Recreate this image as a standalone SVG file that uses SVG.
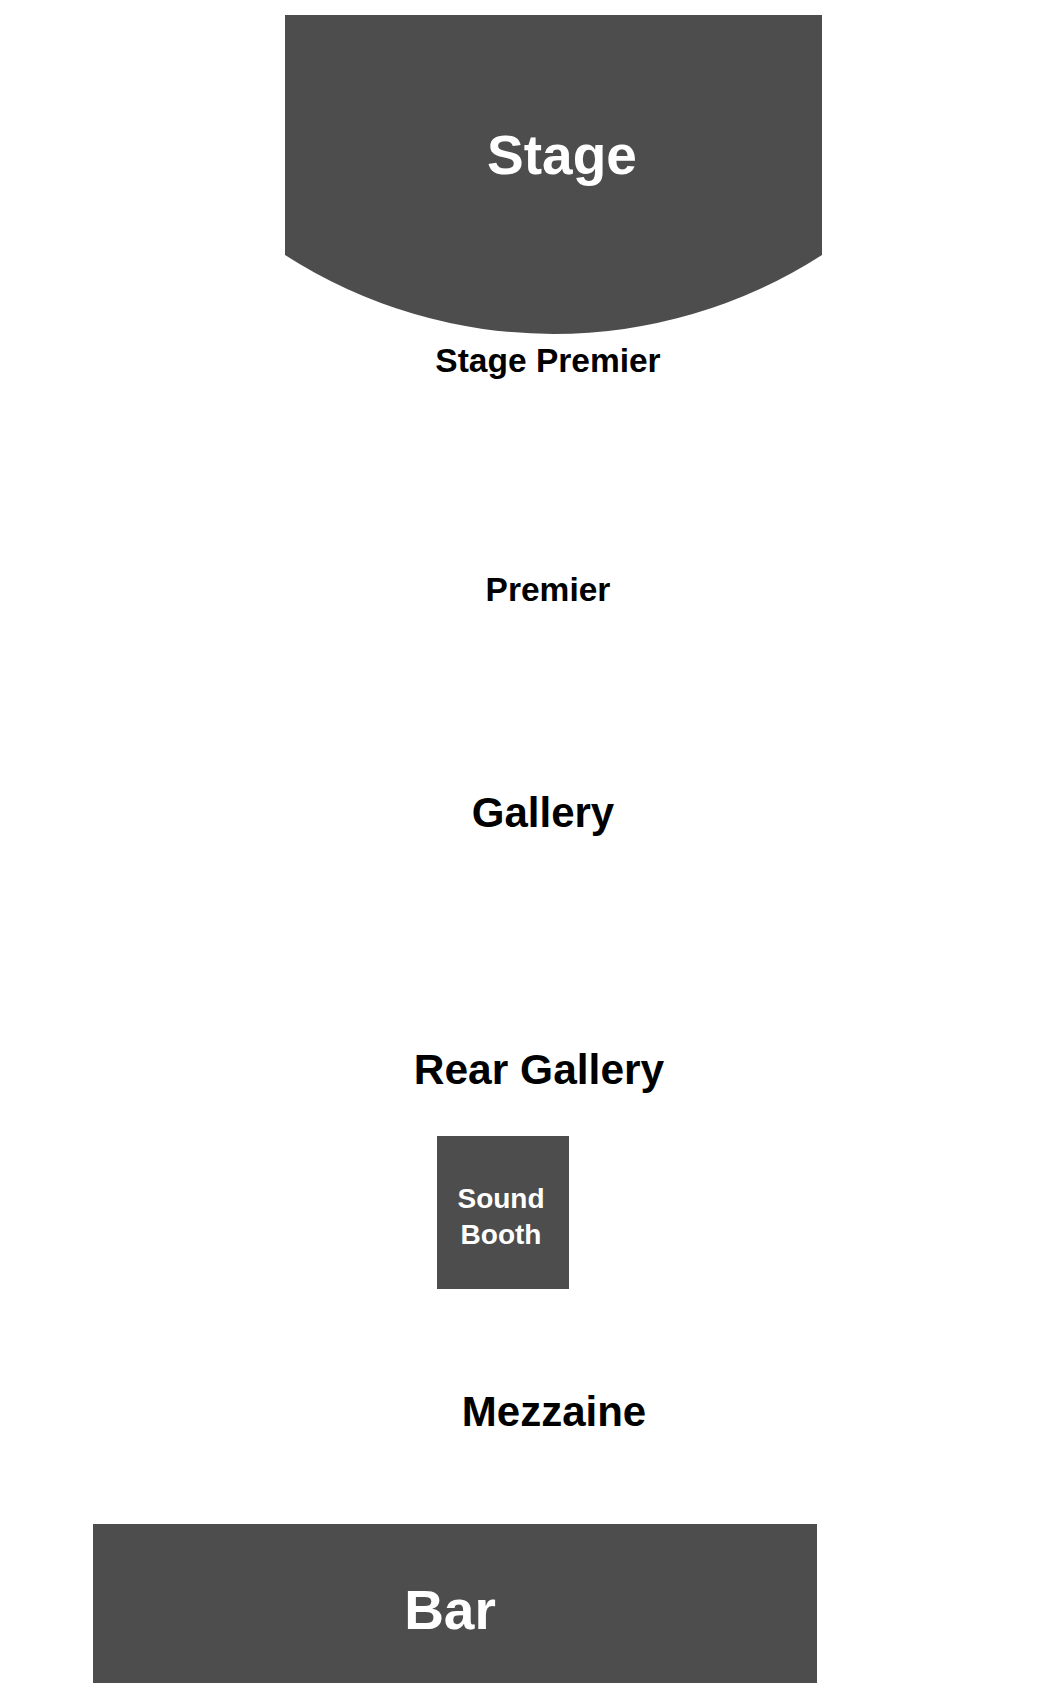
<svg xmlns="http://www.w3.org/2000/svg" width="1050" height="1700" viewBox="0 0 1050 1700">
<style>
.blk{fill:#4d4d4d}
.w{fill:#ffffff;font-family:"Liberation Sans",Arial,sans-serif;font-weight:bold;text-anchor:middle}
.k{fill:#000000;font-family:"Liberation Sans",Arial,sans-serif;font-weight:bold;text-anchor:middle}
</style>
<rect width="1050" height="1700" fill="#ffffff"/>
<g id="stage">
<path class="blk" d="M285,15 H822 V255 A496,496 0 0 1 285,255 Z"/>
<text class="w" x="562" y="174" font-size="55">Stage</text>
</g>
<g id="stage-premier"><text class="k" x="548" y="372" font-size="33.5">Stage Premier</text></g>
<g id="premier"><text class="k" x="548" y="601" font-size="33.5">Premier</text></g>
<g id="gallery"><text class="k" x="543" y="827" font-size="42">Gallery</text></g>
<g id="rear-gallery"><text class="k" x="539" y="1084" font-size="42.5">Rear Gallery</text></g>
<g id="sound-booth">
<rect class="blk" x="437" y="1136" width="132" height="153"/>
<text class="w" x="501" y="1208" font-size="28">Sound</text>
<text class="w" x="501" y="1244" font-size="28">Booth</text>
</g>
<g id="mezzaine"><text class="k" x="554" y="1426" font-size="42">Mezzaine</text></g>
<g id="bar">
<rect class="blk" x="93" y="1524" width="724" height="159"/>
<text class="w" x="450" y="1629" font-size="55">Bar</text>
</g>
<g id="connectors"></g>
</svg>
